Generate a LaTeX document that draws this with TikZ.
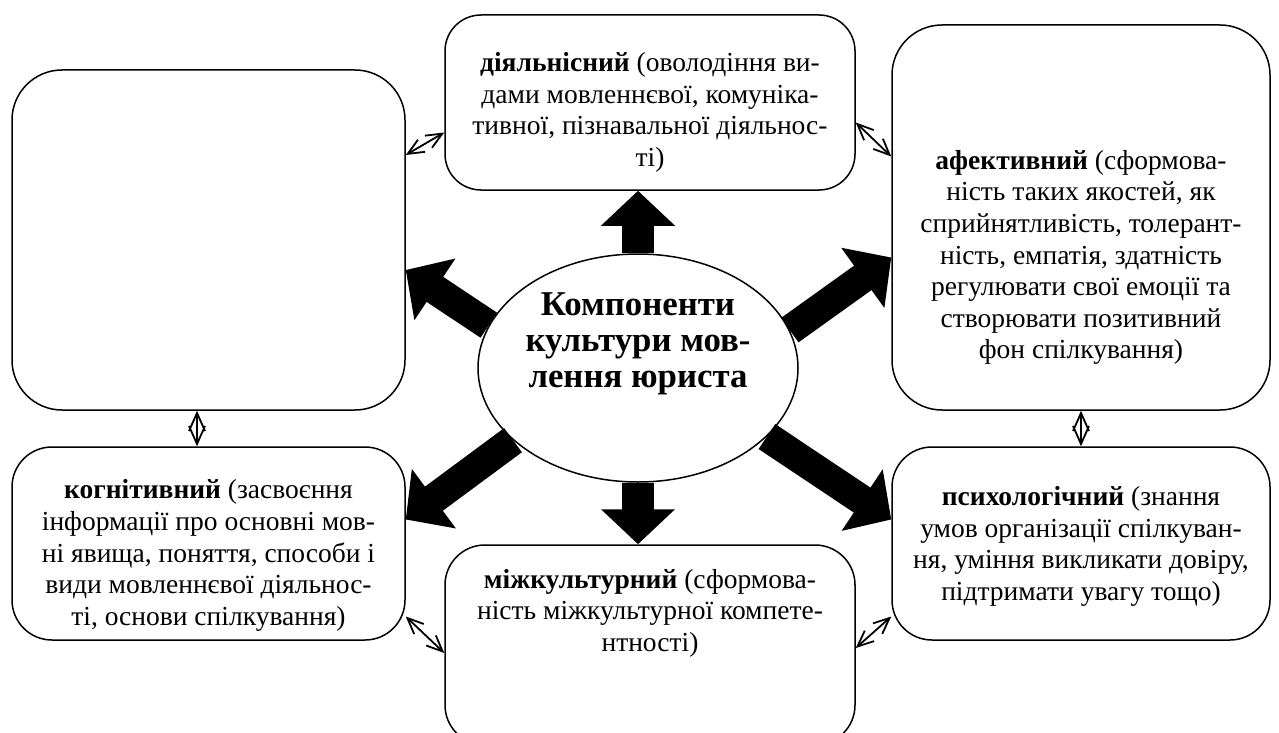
\documentclass[tikz,border=0pt]{standalone}
\usepackage{fontspec}
\setmainfont{Liberation Serif}
\usetikzlibrary{shapes.geometric,arrows.meta}

\tikzset{
	box/.style={draw, line width=0.75pt, rounded corners=#1, inner sep=0pt},
	box/.default=22pt,
	txt/.style={align=center, inner sep=0pt, font=\fontsize{13.75}{15.8}\selectfont},
	title/.style={align=center, inner sep=0pt, font=\fontsize{17.4}{18}\selectfont\bfseries},
	bigarrow/.style={line width=16pt, -{Triangle[length=17.5pt,width=36pt]}},
	link/.style={line width=0.9pt, {Straight Barb[length=8pt,width=7pt]}-{Straight Barb[length=8pt,width=7pt]}},
	vlink/.style={line width=0.9pt, {Straight Barb[length=9pt,width=8pt]}-{Straight Barb[length=9pt,width=8pt]}}
}

\begin{document}
\begin{tikzpicture}[x=0.5pt,y=-0.5pt]
	\useasboundingbox (0,0) rectangle (1279,733);
	% boxes
	\node[box=25pt, minimum width=196.5pt, minimum height=170pt] (lbox) at (208.5,240) {};
	\node[box=18pt, minimum width=205pt, minimum height=87.5pt] (dbox) at (650,102.5) {};
	\node[box=25pt, minimum width=189pt, minimum height=192.5pt] (abox) at (1081,217.5) {};
	\node[box=20pt, minimum width=196.5pt, minimum height=96.5pt] (kbox) at (208.5,543.5) {};
	\node[box=20pt, minimum width=205pt, minimum height=100pt] (mbox) at (650,645) {};
	\node[box=20pt, minimum width=189pt, minimum height=96.5pt] (pbox) at (1081,543.5) {};
	\node[ellipse, draw, line width=0.75pt, minimum width=160pt, minimum height=114pt] (ell) at (638,368) {};
	
	% texts
	\node[title] (etxt) at ([yshift=12pt]ell.center) {Компоненти\\культури мов-\\лення юриста};
	\node[txt] (dtxt) at ([yshift=-5pt]dbox.center) {\textbf{діяльнісний} (оволодіння ви-\\дами мовленнєвої, комуніка-\\тивної, пізнавальної діяльнос-\\ті)};
	\node[txt] (atxt) at ([yshift=-20pt]abox.center) {\textbf{афективний} (сформова-\\ність таких якостей, як\\сприйнятливість, толерант-\\ність, емпатія, здатність\\регулювати свої емоції та\\створювати позитивний\\фон спілкування)};
	\node[txt] (ktxt) at ([yshift=-6pt]kbox.center) {\textbf{когнітивний} (засвоєння\\інформації про основні мов-\\ні явища, поняття, способи і\\види мовленнєвої діяльнос-\\ті, основи спілкування)};
	\node[txt] (mtxt) at ([yshift=16pt]mbox.center) {\textbf{міжкультурний} (сформова-\\ність міжкультурної компете-\\нтності)};
	\node[txt] (ptxt) at ([yshift=-1.5pt]pbox.center) {\textbf{психологічний} (знання\\умов організації спілкуван-\\ня, уміння викликати довіру,\\підтримати увагу тощо)};
	
	% thick arrows
	\draw[bigarrow] (ell.north) -- (ell.north |- dbox.south);
	\draw[bigarrow] (ell.south) -- (ell.south |- mbox.north);
	\draw[bigarrow, line width=15pt] (ell.164) -- ([yshift=-15pt]lbox.east);
	\draw[bigarrow, line width=15pt] (ell.14) -- ([yshift=-20pt]abox.west);
	\draw[bigarrow, line width=15pt] (ell.210) -- ([yshift=12pt]kbox.east);
	\draw[bigarrow, line width=15pt] (ell.-28) -- ([yshift=12pt]pbox.west);
	
	% thin links
	\draw[link] ([yshift=42.5pt]lbox.east) -- ([yshift=-15pt]dbox.west);
	\draw[link] ([yshift=-10pt]dbox.east) -- ([yshift=30.5pt]abox.west);
	\draw[link] ([yshift=-36.5pt]kbox.east) -- ([yshift=-4pt]mbox.west);
	\draw[link] ([yshift=-1.5pt]mbox.east) -- ([yshift=-36.5pt]pbox.west);
	\draw[vlink] ([xshift=-5.75pt]lbox.south) -- ([xshift=-5.75pt]kbox.north);
	\draw[vlink] (abox.south) -- (pbox.north);
\end{tikzpicture}
\end{document}
